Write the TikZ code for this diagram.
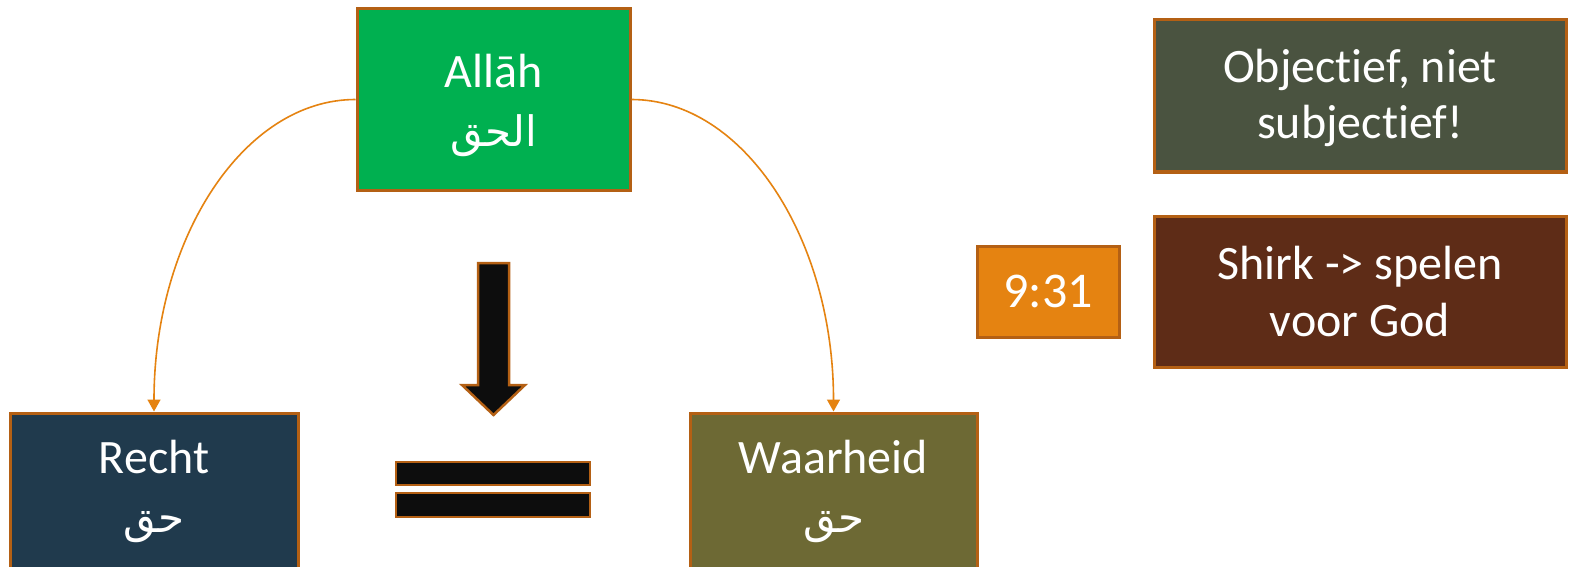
\documentclass[tikz,border=0pt]{standalone}
\usepackage{fontspec}
\setmainfont[Ligatures=NoCommon]{Carlito}
\newfontfamily\arabicfont[Script=Arabic]{DejaVu Sans}
\TeXXeTstate=1
\usetikzlibrary{arrows.meta}
\definecolor{bordc}{RGB}{180,96,20}
\definecolor{linec}{RGB}{229,131,17}
\definecolor{greenc}{RGB}{0,176,80}
\definecolor{navyc}{RGB}{32,58,77}
\definecolor{olivec}{RGB}{109,105,52}
\definecolor{grayc}{RGB}{74,83,64}
\definecolor{brownc}{RGB}{94,44,23}
\definecolor{orangec}{RGB}{229,131,17}
\definecolor{blackc}{RGB}{13,13,13}
\newcommand{\ar}[1]{{\arabicfont\fontsize{42}{50}\selectfont\beginR #1\endR}}
\tikzset{
  box/.style={draw=bordc, line width=3pt, rectangle, inner sep=0pt, align=center,
    text=white, font=\fontsize{48}{50}\selectfont},
  conn/.style={draw=linec, line width=1.6pt, -{Triangle[width=13pt,length=12pt]}},
  shape2/.style={fill=blackc, draw=bordc, line width=2.5pt},
}
\begin{document}
\begin{tikzpicture}[x=1pt,y=1pt]
\useasboundingbox (0,0) rectangle (1570,566);
\fill[white] (0,0) rectangle (1570,566);
% nodes
\node[box, fill=greenc, minimum width=273pt, minimum height=181pt] (allah) at (493.5,466.5) {\rule{0pt}{46pt}Allāh\\[9pt]\ar{الحق}};
\node[box, fill=navyc, minimum width=288pt, minimum height=156pt] (recht) at (154,75) {Recht\\[9pt]\ar{حق}};
\node[box, fill=olivec, minimum width=287pt, minimum height=156pt] (waarheid) at (833.5,75) {Waarheid\\[9pt]\ar{حق}};
\node[box, fill=grayc, minimum width=412pt, minimum height=152pt, font=\fontsize{48}{56}\selectfont] (obj) at (1360,470) {\rule{0pt}{38pt}Objectief, niet\\subjectief!};
\node[box, fill=brownc, minimum width=412pt, minimum height=151pt, font=\fontsize{48}{57}\selectfont] (shirk) at (1360,274.5) {Shirk -> spelen\\voor God};
\node[box, fill=orangec, minimum width=142pt, minimum height=91pt, font=\fontsize{50}{58}\selectfont] (vers) at (1048,274.5) {9:31};
% connectors
\draw[conn] (allah.west) .. controls +(-112,0) and +(0,173) .. (recht.north);
\draw[conn] (allah.east) .. controls +(112,0) and +(0,173) .. (waarheid.north);
% down arrow
\draw[shape2] (478,303) -- (509,303) -- (509,181) -- (525,181) -- (493.5,151) -- (462,181) -- (478,181) -- cycle;
% equal sign
\draw[shape2] (396,81) rectangle (590,104);
\draw[shape2] (396,49) rectangle (590,73);
\end{tikzpicture}
\end{document}
